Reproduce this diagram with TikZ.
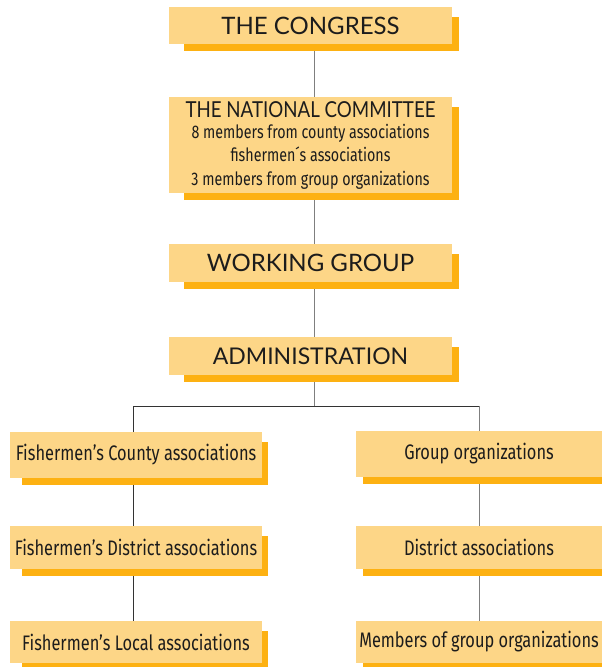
\documentclass[tikz,border=0pt]{standalone}
\usepackage{fontspec}
\setmainfont{Fira Sans}[FakeStretch=0.78]
\newfontfamily\headfont{Lato}
\newfontfamily\headcond{Lato}[FakeStretch=0.85]
\usetikzlibrary{backgrounds}
\definecolor{boxfill}{HTML}{FDD687}
\definecolor{boxshade}{HTML}{FDB112}
\definecolor{inkdark}{HTML}{1C1C1C}
\definecolor{linegray}{HTML}{7F7F7F}
\definecolor{linedark}{HTML}{333333}
\pgfdeclarelayer{shade}
\pgfsetlayers{background,shade,main}
\newcommand\subfont{\normalfont\fontsize{18.3}{22}\selectfont}
\tikzset{
  orgbox/.style={fill=boxfill, text=inkdark, inner sep=0pt, align=center},
  headbox/.style={orgbox, minimum width=283pt, font=\headfont\fontsize{24}{26}\selectfont},
  unitbox/.style={orgbox, minimum height=46pt, font=\fontsize{21}{24}\selectfont},
  spineline/.style={draw=linegray, line width=1pt},
  branchline/.style={draw=linedark, line width=1pt},
  shadefill/.style={fill=boxshade}
}
\begin{document}
\begin{tikzpicture}[x=1pt,y=-1pt]
\useasboundingbox (0,0) rectangle (602,667);

% central column
\node[headbox, minimum height=37pt] (congress) at (310.5,25.5) {THE CONGRESS};
\node[headbox, minimum height=96pt, font=\headcond\fontsize{22}{22}\selectfont] (natcom) at (310.5,145) {THE NATIONAL COMMITTEE\\[-1pt]
  \subfont 8 members from county associations\\[1.5pt]
  \subfont fishermen´s associations\\[1.5pt]
  \subfont 3 members from group organizations};
\node[headbox, minimum height=38pt] (working) at (310.5,263) {WORKING GROUP};
\node[headbox, minimum height=38pt] (admin) at (310.5,356) {\fontsize{23}{26}\selectfont ADMINISTRATION};

% left column
\node[unitbox, minimum width=252pt] (county) at (136,455) {Fishermen’s County associations};
\node[unitbox, minimum width=252pt, minimum height=43pt] (fdistrict) at (136,547.5) {Fishermen’s District associations};
\node[unitbox, minimum width=252pt, minimum height=42pt] (flocal) at (136,642) {Fishermen’s Local associations};

% right column
\node[unitbox, minimum width=246pt] (group) at (479,454) {Group organizations};
\node[unitbox, minimum width=246pt, minimum height=43pt] (gdistrict) at (479,547.5) {District associations};
\node[unitbox, minimum width=246pt, minimum height=42pt] (gmembers) at (479,642) {Members of group organizations};

% drop shadows
\begin{pgfonlayer}{shade}
  \foreach \n in {congress,natcom,working,admin}
    \fill[shadefill] ([shift={(15pt,-10pt)}]\n.north west) rectangle ([shift={(7pt,-7pt)}]\n.south east);
  \foreach \n in {county,fdistrict,flocal}
    \fill[shadefill] ([shift={(12pt,-10pt)}]\n.north west) rectangle ([shift={(6pt,-7pt)}]\n.south east);
  \foreach \n in {group,gdistrict,gmembers}
    \fill[shadefill] ([shift={(7pt,-10pt)}]\n.north west) rectangle ([shift={(7pt,-7pt)}]\n.south east);
\end{pgfonlayer}

% connectors
\coordinate (spine) at (314,0);
\coordinate (leftx) at (133,0);
\coordinate (rightx) at (479,0);
\coordinate (fork) at (314,406);
\begin{pgfonlayer}{background}
  \draw[spineline] (congress.center -| spine) -- (natcom.center -| spine);
  \draw[spineline] (natcom.center -| spine) -- (working.center -| spine);
  \draw[spineline] (working.center -| spine) -- (admin.center -| spine);
  \draw[spineline] (admin.center -| spine) -- (fork);
  \draw[branchline] (fork -| rightx) -- (fork -| leftx) -- (county.center -| leftx);
  \draw[spineline] (fork -| rightx) -- (group.center -| rightx);
  \draw[branchline] (county.center -| leftx) -- (fdistrict.center -| leftx);
  \draw[branchline] (fdistrict.center -| leftx) -- (flocal.center -| leftx);
  \draw[spineline] (group.center -| rightx) -- (gdistrict.center -| rightx);
  \draw[spineline] (gdistrict.center -| rightx) -- (gmembers.center -| rightx);
\end{pgfonlayer}
\end{tikzpicture}
\end{document}
